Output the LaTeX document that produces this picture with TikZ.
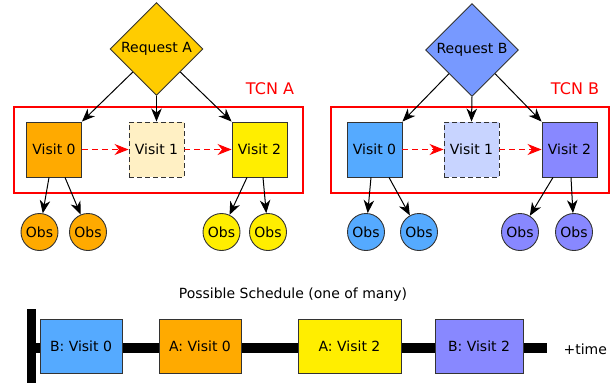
\documentclass[tikz,border=0pt]{standalone}
\usepackage{fontspec}
\setmainfont{DejaVu Sans}
\usetikzlibrary{shapes.geometric,arrows.meta}

\definecolor{reqAcol}{HTML}{FFCC00}
\definecolor{orangeA}{HTML}{FFAA00}
\definecolor{paleA}{HTML}{FFF0C4}
\definecolor{yellowA}{HTML}{FFEE00}
\definecolor{reqBcol}{HTML}{7799FF}
\definecolor{blueB}{HTML}{55AAFF}
\definecolor{paleB}{HTML}{C8D4FF}
\definecolor{violetB}{HTML}{8888FF}
\definecolor{edgegray}{HTML}{333333}
\definecolor{tcnred}{HTML}{FF0000}

\tikzset{
  txt/.style={font=\fontsize{14}{17}\selectfont},
  request/.style={diamond, draw=edgegray, line width=0.9pt, inner sep=0pt,
    minimum width=93pt, minimum height=93pt, txt},
  visitbox/.style={rectangle, draw=edgegray, line width=0.9pt, inner sep=0pt,
    minimum width=55pt, minimum height=55pt, txt},
  optbox/.style={visitbox, dash pattern=on 5pt off 3pt},
  obs/.style={circle, draw=edgegray, line width=0.9pt, inner sep=0pt,
    minimum size=37pt, txt},
  tcn/.style={draw=tcnred, line width=2pt},
  tcnlabel/.style={text=tcnred, font=\fontsize{16}{19}\selectfont},
  arr/.style={draw=black, line width=1pt, -{Stealth[length=13pt,width=10.5pt,inset=4pt]}},
  redarr/.style={draw=tcnred, line width=1pt, dash pattern=on 6pt off 4pt,
    -{Stealth[length=14pt,width=11pt,inset=4.5pt]}},
  slot/.style={rectangle, draw=edgegray, line width=0.9pt, inner sep=0pt,
    minimum height=54pt, txt},
}

\begin{document}
\begin{tikzpicture}[x=1pt,y=-1pt]
\useasboundingbox (0,0) rectangle (616,383);

% ---------- Request A ----------
\draw[tcn] (14,107) rectangle (303,193);
\node[tcnlabel] (tcnA) at (270,89) {TCN A};
\node[request, fill=reqAcol] (reqA) at (156.5,49) {Request A};
\node[visitbox, fill=orangeA] (a0) at (54,149.5) {Visit 0};
\node[optbox, fill=paleA] (a1) at (156.5,149.5) {Visit 1};
\node[visitbox, fill=yellowA] (a2) at (259.5,149.5) {Visit 2};
\node[obs, fill=orangeA] (oa1) at (39.5,232) {Obs};
\node[obs, fill=orangeA] (oa2) at (88,232) {Obs};
\node[obs, fill=yellowA] (oa3) at (221.5,232) {Obs};
\node[obs, fill=yellowA] (oa4) at (268,232) {Obs};

\draw[arr] (reqA) -- (a0.north east);
\draw[arr] (reqA.south) -- (a1.north);
\draw[arr] (reqA) -- (a2.north west);
\draw[redarr] (a0.east) -- (a1.west);
\draw[redarr] (a1.east) -- (a2.west);
\draw[arr] ([xshift=-5pt]a0.south) -- (oa1);
\draw[arr] ([xshift=11pt]a0.south) -- (oa2);
\draw[arr] ([xshift=-12.5pt]a2.south) -- (oa3);
\draw[arr] ([xshift=3.5pt]a2.south) -- (oa4);

% ---------- Request B ----------
\draw[tcn] (331,107) rectangle (609,193);
\node[tcnlabel] (tcnB) at (575,89) {TCN B};
\node[request, fill=reqBcol] (reqB) at (472,50) {Request B};
\node[visitbox, fill=blueB] (b0) at (374.5,149.5) {Visit 0};
\node[optbox, fill=paleB] (b1) at (471.5,149.5) {Visit 1};
\node[visitbox, fill=violetB] (b2) at (569.5,149.5) {Visit 2};
\node[obs, fill=blueB] (ob1) at (366,232) {Obs};
\node[obs, fill=blueB] (ob2) at (419,232) {Obs};
\node[obs, fill=violetB] (ob3) at (520,232) {Obs};
\node[obs, fill=violetB] (ob4) at (574,232) {Obs};

\draw[arr] (reqB) -- (b0.north east);
\draw[arr] (reqB.south) -- (b1.north);
\draw[arr] (reqB) -- (b2.north west);
\draw[redarr] (b0.east) -- (b1.west);
\draw[redarr] (b1.east) -- (b2.west);
\draw[arr] ([xshift=-3.5pt]b0.south) -- (ob1);
\draw[arr] ([xshift=14.5pt]b0.south) -- (ob2);
\draw[arr] ([xshift=-16.5pt]b2.south) -- (ob3);
\draw[arr] ([xshift=1.5pt]b2.south) -- (ob4);

% ---------- Schedule timeline ----------
\node[txt] (title) at (293,295) {Possible Schedule (one of many)};
\node[rectangle, fill=black, inner sep=0pt, minimum width=9pt, minimum height=74pt]
  (tstart) at (31.5,346) {};
\coordinate (tend) at (547,348);
\draw[line width=10.5pt] (tstart.center |- tend) -- (tend);
\node[txt, anchor=west] (time) at (560,349) {+time};

\node[slot, fill=blueB, minimum width=82pt] (s1) at (81,346) {B: Visit 0};
\node[slot, fill=orangeA, minimum width=82pt] (s2) at (200,346) {A: Visit 0};
\node[slot, fill=yellowA, minimum width=103pt] (s3) at (349.5,346) {A: Visit 2};
\node[slot, fill=violetB, minimum width=88pt] (s4) at (479,346) {B: Visit 2};
\end{tikzpicture}
\end{document}
